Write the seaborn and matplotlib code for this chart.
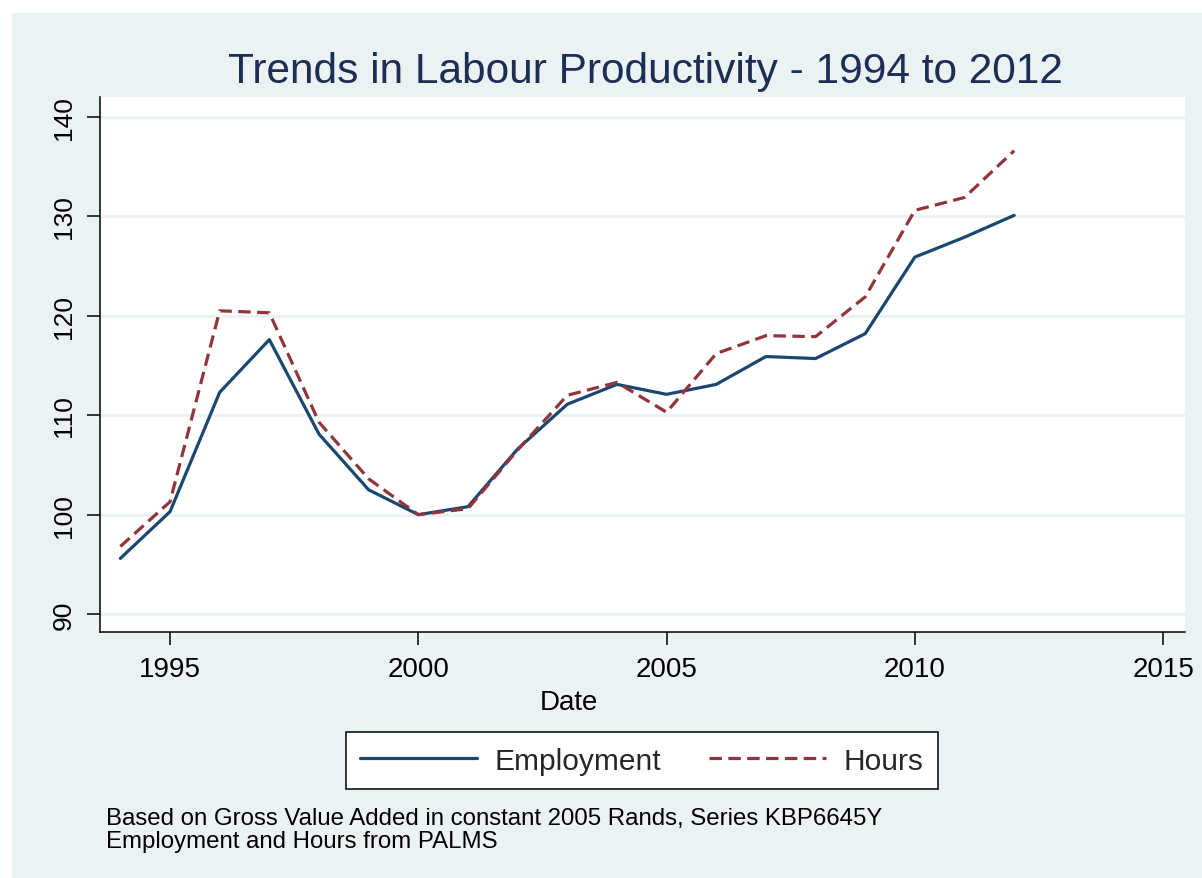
import numpy as np
import pandas as pd
import matplotlib
matplotlib.use("Agg")
import matplotlib.pyplot as plt
from matplotlib.patches import Rectangle
import seaborn as sns

# Labour productivity indices (2000 = 100)
years = [1994, 1995, 1996, 1997, 1998, 1999, 2000, 2001, 2002, 2003,
         2004, 2005, 2006, 2007, 2008, 2009, 2010, 2011, 2012]
employment = [95.6, 100.3, 112.3, 117.6, 108.1, 102.5, 100.0, 100.8, 106.6, 111.1,
              113.1, 112.1, 113.1, 115.9, 115.7, 118.2, 125.9, 127.9, 130.1]
hours = [96.8, 101.3, 120.5, 120.3, 109.3, 103.6, 100.0, 100.6, 106.5, 112.0,
         113.3, 110.3, 116.2, 118.0, 117.9, 121.9, 130.6, 131.9, 136.6]
series_names = ["Employment", "Hours"]
x_ticks = [1995, 2000, 2005, 2010, 2015]
y_ticks = [90, 100, 110, 120, 130, 140]
title = "Trends in Labour Productivity - 1994 to 2012"
x_label = "Date"
notes = ["Based on Gross Value Added in constant 2005 Rands, Series KBP6645Y",
         "Employment and Hours from PALMS"]

NAVY = "#1A476F"
MAROON = "#90353B"
BG = "#EAF2F3"
TITLE_C = "#1E2D53"

df = pd.DataFrame({
    "year": years * 2,
    "value": employment + hours,
    "series": [series_names[0]] * len(years) + [series_names[1]] * len(years),
})

sns.set_theme(style="white")
plt.rcParams["font.family"] = ["Liberation Sans", "DejaVu Sans"]

W, H = 1202, 879
fig = plt.figure(figsize=(W / 100, H / 100), dpi=100, facecolor="white")
fig.patches.append(Rectangle((12 / W, 0), 1 - 12 / W, 1 - 14 / H,
                             transform=fig.transFigure, facecolor=BG,
                             edgecolor="none", zorder=-10))

ax = fig.add_axes([100 / W, 1 - 633 / H, (1185 - 100) / W, (633 - 98) / H])
ax.set_facecolor("white")

sns.lineplot(data=df, x="year", y="value", hue="series", style="series",
             palette={series_names[0]: NAVY, series_names[1]: MAROON},
             dashes={series_names[0]: "", series_names[1]: (3.9, 2.0)},
             linewidth=2.3, ax=ax, legend=True)

ax.set_xlim(1993.59, 2015.44)
ax.set_ylim(88.2, 142.0)
ax.set_xticks(x_ticks)
ax.set_yticks(y_ticks)
ax.set_xticklabels([str(t) for t in x_ticks], fontsize=20)
ax.set_yticklabels([str(t) for t in y_ticks], fontsize=19, rotation=90, va="center")
ax.yaxis.grid(True, color=BG, linewidth=2.2)
ax.set_axisbelow(True)
ax.xaxis.grid(False)

for side in ("top", "right"):
    ax.spines[side].set_visible(False)
for side in ("left", "bottom"):
    ax.spines[side].set_color("black")
    ax.spines[side].set_linewidth(1.1)
ax.tick_params(axis="both", which="major", direction="out", length=9.5,
               width=1.1, color="black", labelcolor="black", bottom=True, left=True)
ax.tick_params(axis="y", pad=8)
ax.tick_params(axis="x", pad=8)
ax.set_xlabel("")
ax.set_ylabel("")

handles, labels = ax.get_legend_handles_labels()
ax.get_legend().remove()
leg = fig.legend(handles, labels, loc="center", ncol=2,
                 bbox_to_anchor=(642 / W, 1 - 761.5 / H),
                 fontsize=21.5, frameon=True, fancybox=False, framealpha=1,
                 handlelength=3.9, handletextpad=0.6, columnspacing=1.6,
                 borderpad=0.5, borderaxespad=0)
leg.get_frame().set_edgecolor("black")
leg.get_frame().set_linewidth(1.1)
leg.get_frame().set_facecolor("white")

fig.text(645 / W, 1 - 83 / H, title, ha="center", va="baseline",
         fontsize=30.5, color=TITLE_C)
fig.text(569 / W, 1 - 710 / H, x_label, ha="center", va="baseline",
         fontsize=20, color="black")
fig.text(106 / W, 1 - 825 / H, notes[0], ha="left", va="baseline",
         fontsize=17.3, color="black")
fig.text(106 / W, 1 - 848 / H, notes[1], ha="left", va="baseline",
         fontsize=17.3, color="black")

fig.savefig("out.png", dpi=100, facecolor="white")
